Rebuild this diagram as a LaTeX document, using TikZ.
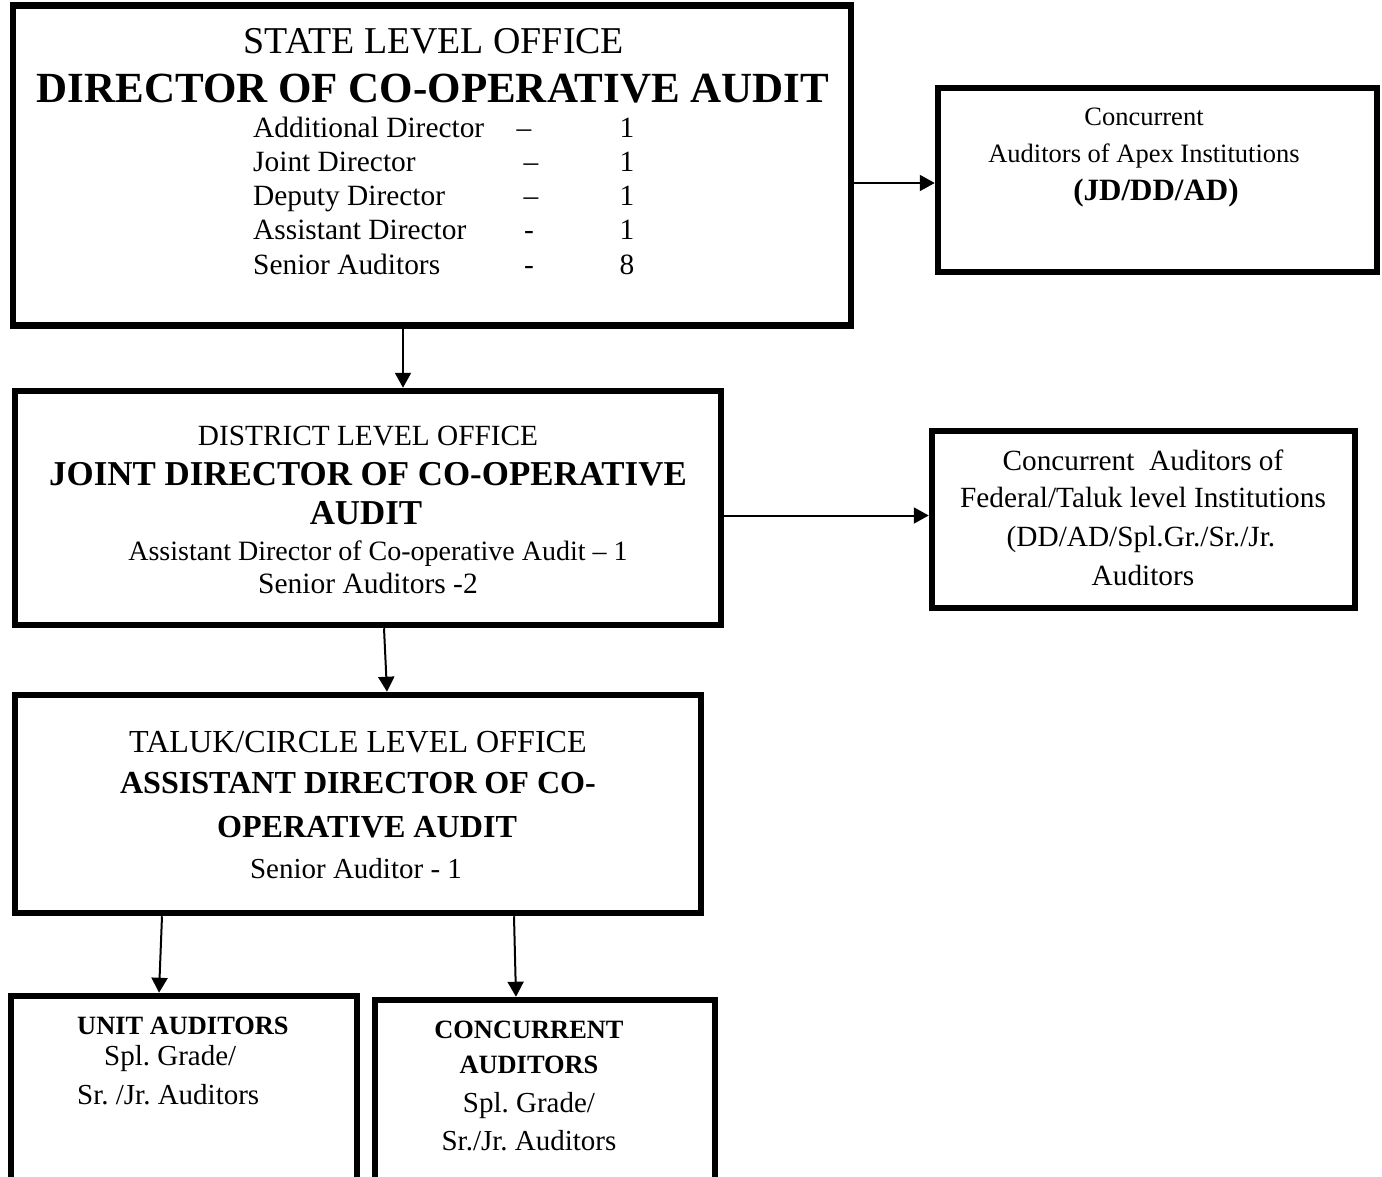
\documentclass[tikz,border=0pt]{standalone}
\usepackage{fontspec}
\setmainfont{Liberation Serif}
\usetikzlibrary{arrows.meta}

\newcommand{\fs}[1]{\fontsize{#1}{#1}\selectfont}

\tikzset{
  box/.style={draw, line width=6.5pt},
  arr/.style={line width=2pt, -{Triangle[width=16pt,length=15pt]}},
  txt/.style={anchor=base, inner sep=0pt},
}

\begin{document}
\frenchspacing
\begin{tikzpicture}[x=1pt, y=-1pt]
    \useasboundingbox (0,0) rectangle (1382,1177);
    \clip (0,0) rectangle (1382,1177);
    % boxes
    \node[box, minimum width=838pt, minimum height=320pt] (state) at (432,165.5) {};
    \node[box, minimum width=439pt, minimum height=184pt] (apex) at (1157.5,180) {};
    \node[box, minimum width=706pt, minimum height=234pt] (district) at (368,508) {};
    \node[box, minimum width=423pt, minimum height=177pt] (fed) at (1143.5,519.5) {};
    \node[box, minimum width=686pt, minimum height=218pt] (taluk) at (358,804) {};
    \node[box, minimum width=346pt, minimum height=204pt] (unit) at (184,1098) {};
    \node[box, minimum width=340pt, minimum height=200pt] (conc) at (545,1100) {};
    % state level
    \node[txt, font=\fs{37.9}] (stateA) at (434,54) {STATE LEVEL OFFICE};
    \node[txt, font=\bfseries\fs{43}] (stateB) at (433,103) {DIRECTOR OF CO-OPERATIVE AUDIT};
    \foreach \who/\sep/\num/\dx [count=\i] in {Additional Director/\textendash/1/524,
        Joint Director/\textendash/1/531, Deputy Director/\textendash/1/531,
        Assistant Director/-/1/529, Senior Auditors/-/8/529}
      {\node[txt, anchor=base west, font=\fs{29.4}] (who\i) at (253,{104+34*\i}) {\who};
       \node[txt, font=\fs{29.4}] (sep\i) at (\dx,{104+34*\i}) {\sep};
       \node[txt, font=\fs{29.4}] (num\i) at (627,{104+34*\i}) {\num};}
    % apex
    \node[txt, font=\fs{26.5}] (apexA) at (1144,126) {Concurrent};
    \node[txt, font=\fs{26.5}] (apexB) at (1144,163) {Auditors of Apex Institutions};
    \node[txt, font=\bfseries\fs{31}] (apexC) at (1156,201) {(JD/DD/AD)};
    % district level
    \node[txt, font=\fs{29.3}] (distA) at (368,445) {DISTRICT LEVEL OFFICE};
    \node[txt, font=\bfseries\fs{34.9}] (distB) at (368,485) {JOINT DIRECTOR OF CO-OPERATIVE};
    \node[txt, font=\bfseries\fs{34.9}] (distC) at (366,524) {AUDIT};
    \node[txt, font=\fs{28}] (distD) at (378,560) {Assistant Director of Co-operative Audit \textendash{} 1};
    \node[txt, font=\fs{29.5}] (distE) at (368,593) {Senior Auditors -2};
    % federal / taluk institutions
    \node[txt, font=\fs{29.3}] (fedA) at (1143,470) {Concurrent\ \ Auditors of};
    \node[txt, font=\fs{29.3}] (fedB) at (1143,507) {Federal/Taluk level Institutions};
    \node[txt, font=\fs{29.3}] (fedC) at (1141,546) {(DD/AD/Spl.Gr./Sr./Jr.};
    \node[txt, font=\fs{29.3}] (fedD) at (1143,585) {Auditors};
    % taluk level
    \node[txt, font=\fs{32.1}] (talA) at (358,752) {TALUK/CIRCLE LEVEL OFFICE};
    \node[txt, font=\bfseries\fs{32.1}] (talB) at (358,793) {ASSISTANT DIRECTOR OF CO-};
    \node[txt, font=\bfseries\fs{32.1}] (talC) at (367,837) {OPERATIVE AUDIT};
    \node[txt, font=\fs{29}] (talD) at (356,878) {Senior Auditor - 1};
    % unit auditors
    \node[txt, anchor=base west, font=\bfseries\fs{26.4}] (unitA) at (77,1034) {UNIT AUDITORS};
    \node[txt, anchor=base west, font=\fs{29}] (unitB) at (104,1065) {Spl. Grade/};
    \node[txt, anchor=base west, font=\fs{29}] (unitC) at (77,1104) {Sr. /Jr. Auditors};
    % concurrent auditors
    \node[txt, font=\bfseries\fs{26.4}] (concA) at (529,1038) {CONCURRENT};
    \node[txt, font=\bfseries\fs{26.4}] (concB) at (529,1073) {AUDITORS};
    \node[txt, font=\fs{29}] (concC) at (529,1112) {Spl. Grade/};
    \node[txt, font=\fs{29}] (concD) at (529,1150) {Sr./Jr. Auditors};
    % arrows
    \draw[arr] ([yshift=-3pt]apex.west -| state.east) -- ([yshift=-3pt]apex.west);
    \draw[arr] ([xshift=-29pt]state.south) -- ([xshift=35pt]district.north);
    \draw[arr] ([yshift=4pt]fed.west -| district.east) -- ([yshift=4pt]fed.west);
    \draw[arr] ([xshift=16pt]district.south) -- ([xshift=29pt]taluk.north);
    \draw[arr] ([xshift=-196pt]taluk.south) -- ([xshift=-25pt]unit.north);
    \draw[arr] ([xshift=156pt]taluk.south) -- ([xshift=-29pt]conc.north);
  \end{tikzpicture}
\end{document}
